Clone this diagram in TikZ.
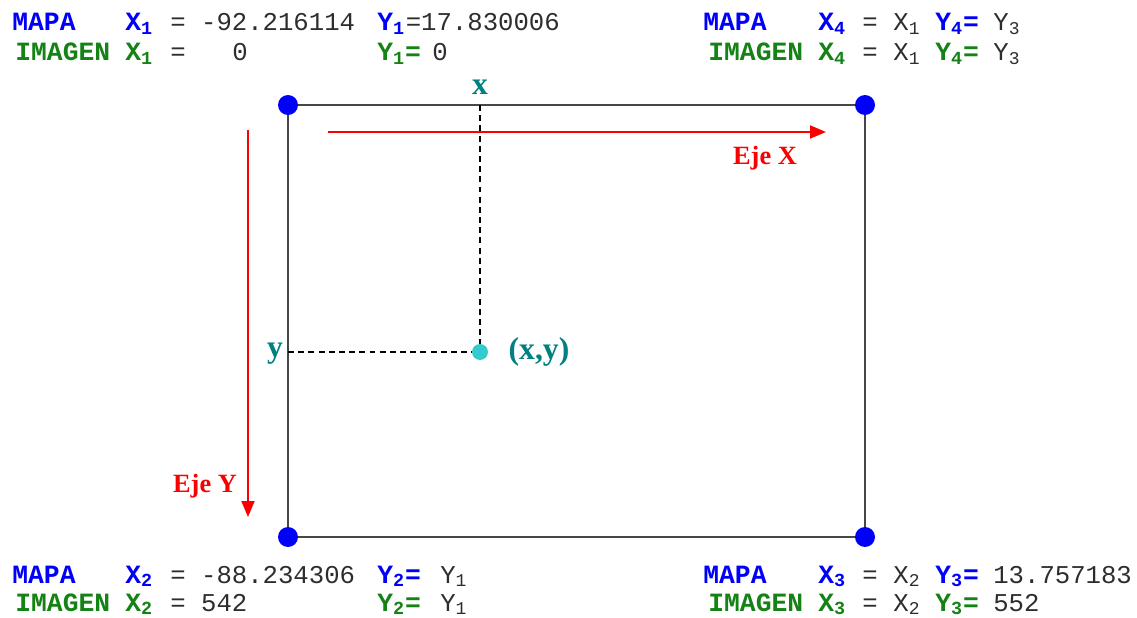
\documentclass[tikz,border=0pt]{standalone}
\usepackage{fontspec}
\setmainfont{Liberation Serif}
\setmonofont{Liberation Mono}
\usetikzlibrary{arrows.meta,positioning}
\definecolor{mapablue}{RGB}{0,0,250}
\definecolor{imggreen}{RGB}{20,130,20}
\definecolor{axred}{RGB}{250,0,0}
\definecolor{ptteal}{RGB}{0,128,128}
\definecolor{ptcyan}{RGB}{51,204,204}
\definecolor{txtgray}{RGB}{45,45,45}

\begin{document}
\begin{tikzpicture}[x=0.02cm,y=-0.02cm,
  tok/.style={inner sep=0pt,anchor=base west,text=txtgray,
    font=\ttfamily\fontsize{14.6}{16}\selectfont},
  mapa/.style={tok,text=mapablue,font=\ttfamily\bfseries\fontsize{15}{16}\selectfont},
  imagen/.style={mapa,text=imggreen},
  frame/.style={line width=1.1pt,draw=black!72},
  corner/.style={circle,fill=mapablue,inner sep=0pt,minimum size=0.4cm},
  pt/.style={circle,fill=ptcyan,inner sep=0pt,minimum size=0.32cm},
  proj/.style={line width=0.7pt,dash pattern=on 3.4pt off 2.4pt},
  axis/.style={axred,line width=1.1pt,-{Triangle[length=0.32cm,width=0.26cm]}},
  axlbl/.style={text=axred,font=\bfseries\fontsize{15}{16}\selectfont,inner sep=0pt},
  lbl/.style={text=ptteal,font=\bfseries\fontsize{18}{20}\selectfont,inner sep=0pt}]
\useasboundingbox (0,0) rectangle (1137,618);

% corners of the image frame
\coordinate (k1) at (288,105);
\coordinate (k2) at (288,537);
\coordinate (k3) at (865,537);
\coordinate (k4) at (865,105);
\draw[frame] (k1) -- (k4) -- (k3) -- (k2) -- cycle;
\foreach \k in {1,...,4}
  \node[corner] (c\k) at (k\k) {};

% image axes
\coordinate (ax0) at (328,132);
\coordinate (ax1) at (826,132);
\coordinate (ay0) at (248,130);
\coordinate (ay1) at (248,517);
\draw[axis] (ax0) -- (ax1);
\draw[axis] (ay0) -- (ay1);
\node[axlbl] (ejex) at (765,158) {Eje X};
\node[axlbl] (ejey) at (205,486) {Eje Y};

% point (x,y) and its projections
\node[pt] (p) at (480,352) {};
\coordinate (px) at (p |- k1);
\coordinate (py) at (p -| k1);
\draw[proj] (px) -- (p);
\draw[proj] (py) -- (p);
\node[lbl] (xlbl) at (480,87) {x};
\node[lbl] (ylbl) at (275,354) {y};
\node[lbl] (plbl) at (539,352) {(x,y)};

% corner 1 (top left)
\node[mapa] (m1) at (12,31) {MAPA};
\node[mapa] (m1x) at (125,31) {X\textsubscript{1}};
\node[tok] (m1xv) at (170,31) {= -92.216114};
\node[mapa] (m1y) at (377,31) {Y\textsubscript{1}};
\node[tok,right=0pt of m1y.base east,anchor=base west] (m1yv) {=17.830006};
\node[imagen] (i1) at (15,61) {IMAGEN};
\node[imagen] (i1x) at (125,61) {X\textsubscript{1}};
\node[tok] (i1eq) at (170,61) {=};
\node[tok] (i1xv) at (232,61) {0};
\node[imagen] (i1y) at (377,61) {Y\textsubscript{1}=};
\node[tok] (i1yv) at (432,61) {0};

% corner 4 (top right)
\node[mapa] (m4) at (703,31) {MAPA};
\node[mapa] (m4x) at (818,31) {X\textsubscript{4}};
\node[tok] (m4eq) at (862,31) {=};
\node[tok] (m4xv) at (893,31) {X\textsubscript{1}};
\node[mapa] (m4y) at (935,31) {Y\textsubscript{4}=};
\node[tok] (m4yv) at (993,31) {Y\textsubscript{3}};
\node[imagen] (i4) at (708,61) {IMAGEN};
\node[imagen] (i4x) at (818,61) {X\textsubscript{4}};
\node[tok] (i4eq) at (862,61) {=};
\node[tok] (i4xv) at (893,61) {X\textsubscript{1}};
\node[imagen] (i4y) at (935,61) {Y\textsubscript{4}=};
\node[tok] (i4yv) at (993,61) {Y\textsubscript{3}};

% corner 2 (bottom left)
\node[mapa] (m2) at (12,583) {MAPA};
\node[mapa] (m2x) at (125,583) {X\textsubscript{2}};
\node[tok] (m2xv) at (170,583) {= -88.234306};
\node[mapa] (m2y) at (377,583) {Y\textsubscript{2}=};
\node[tok] (m2yv) at (440,583) {Y\textsubscript{1}};
\node[imagen] (i2) at (15,611) {IMAGEN};
\node[imagen] (i2x) at (125,611) {X\textsubscript{2}};
\node[tok] (i2xv) at (170,611) {= 542};
\node[imagen] (i2y) at (377,611) {Y\textsubscript{2}=};
\node[tok] (i2yv) at (440,611) {Y\textsubscript{1}};

% corner 3 (bottom right)
\node[mapa] (m3) at (703,583) {MAPA};
\node[mapa] (m3x) at (818,583) {X\textsubscript{3}};
\node[tok] (m3eq) at (862,583) {=};
\node[tok] (m3xv) at (893,583) {X\textsubscript{2}};
\node[mapa] (m3y) at (935,583) {Y\textsubscript{3}=};
\node[tok] (m3yv) at (993,583) {13.757183};
\node[imagen] (i3) at (708,611) {IMAGEN};
\node[imagen] (i3x) at (818,611) {X\textsubscript{3}};
\node[tok] (i3eq) at (862,611) {=};
\node[tok] (i3xv) at (893,611) {X\textsubscript{2}};
\node[imagen] (i3y) at (935,611) {Y\textsubscript{3}=};
\node[tok] (i3yv) at (993,611) {552};
\end{tikzpicture}
\end{document}
